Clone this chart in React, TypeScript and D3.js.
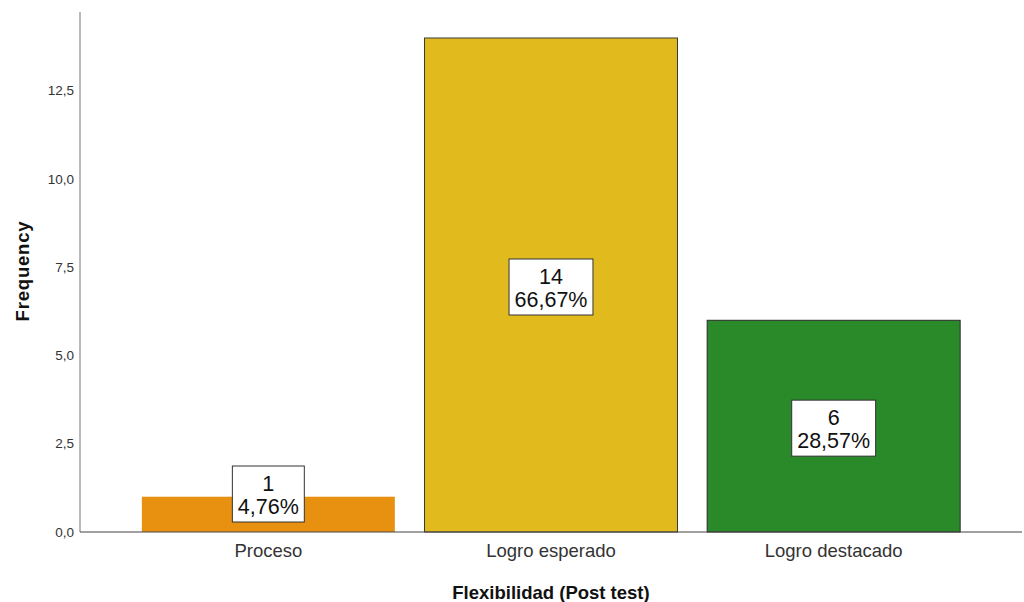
import React from "react";
import * as d3 from "d3";

const categories = ["Proceso", "Logro esperado", "Logro destacado"];
const frequencies = [1, 14, 6];
const percentLabels = ["4,76%", "66,67%", "28,57%"];
const barColors = ["#E8900F", "#E1BA1E", "#2A8A2A"];
const barStrokes = ["none", "#3a3a3a", "#2a2a2a"];
const yTicks = [0, 2.5, 5, 7.5, 10, 12.5];
const xTitle = "Flexibilidad (Post test)";
const yTitle = "Frequency";

const W = 1024;
const H = 602;

export default function App() {
  const x = d3
    .scaleBand<string>()
    .domain(categories)
    .range([127, 975])
    .paddingInner(0.105)
    .paddingOuter(0.0525);
  const y = d3.scaleLinear().domain([0, 14]).range([532, 38]);
  const fmt = (v: number) => d3.format(".1f")(v).replace(".", ",");
  const axisX = 80;
  const boxFont = 21.5;

  const measure = (s: string) => {
    let w = 0;
    for (const ch of s) {
      if (ch === ",") w += 0.278;
      else if (ch === "%") w += 0.889;
      else w += 0.556;
    }
    return w * boxFont;
  };

  return (
    <svg
      width={W}
      height={H}
      style={{ position: "absolute", left: 0, top: 0, background: "#fff" }}
      fontFamily="Arial, 'Liberation Sans', sans-serif"
    >
      <rect x={0} y={0} width={W} height={H} fill="#fff" />
      {categories.map((c, i) => (
        <rect
          key={c}
          x={x(c)}
          y={y(frequencies[i])}
          width={x.bandwidth()}
          height={y(0) - y(frequencies[i])}
          fill={barColors[i]}
          stroke={barStrokes[i]}
          strokeWidth={1}
        />
      ))}
      <line x1={axisX} x2={axisX} y1={12} y2={y(0)} stroke="#8c8c8c" strokeWidth={1.2} />
      <line x1={axisX} x2={1022} y1={y(0)} y2={y(0)} stroke="#444" strokeWidth={1.2} />
      {yTicks.map((t) => (
        <text key={t} x={74} y={y(t) + 4.5} textAnchor="end" fontSize={13.5} fill="#333">
          {fmt(t)}
        </text>
      ))}
      {categories.map((c) => (
        <text
          key={c}
          x={(x(c) as number) + x.bandwidth() / 2}
          y={557}
          textAnchor="middle"
          fontSize={18.5}
          fill="#333"
        >
          {c}
        </text>
      ))}
      {categories.map((c, i) => {
        const cx = (x(c) as number) + x.bandwidth() / 2;
        const bh = 56;
        const cy = Math.min(y(frequencies[i] / 2) + 2, y(0) - 10 - bh / 2);
        const bw = Math.max(measure(percentLabels[i]), measure(String(frequencies[i]))) + 11;
        return (
          <g key={c}>
            <rect
              x={cx - bw / 2}
              y={cy - bh / 2}
              width={bw}
              height={bh}
              fill="#fff"
              stroke="#333"
              strokeWidth={1}
            />
            <text x={cx} y={cy - 3} textAnchor="middle" fontSize={boxFont} fill="#111">
              {frequencies[i]}
            </text>
            <text x={cx} y={cy + 20} textAnchor="middle" fontSize={boxFont} fill="#111">
              {percentLabels[i]}
            </text>
          </g>
        );
      })}
      <text x={551} y={599} textAnchor="middle" fontSize={18.5} fontWeight="bold" fill="#111">
        {xTitle}
      </text>
      <text
        transform={`translate(29,271) rotate(-90)`}
        textAnchor="middle"
        fontSize={18.5}
        fontWeight="bold"
        fill="#111"
        letterSpacing={0.8}
      >
        {yTitle}
      </text>
    </svg>
  );
}
